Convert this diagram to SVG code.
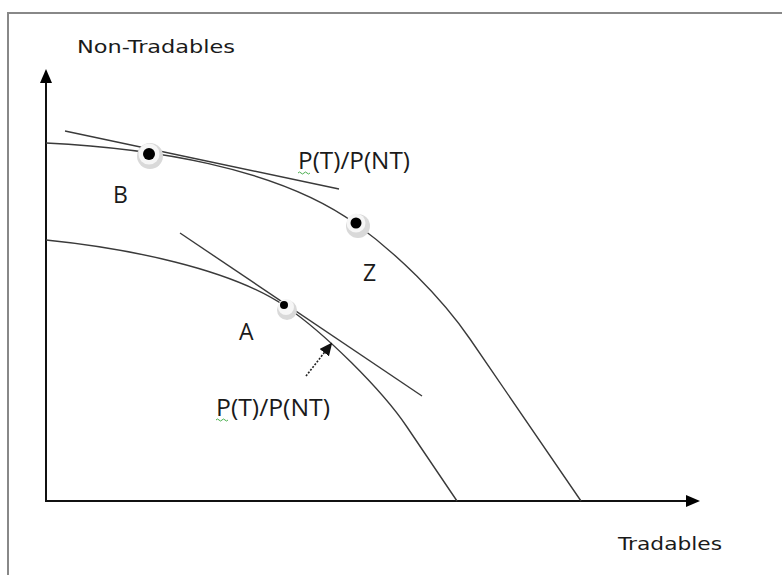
<svg xmlns="http://www.w3.org/2000/svg" width="782" height="575" viewBox="0 0 782 575">
  <defs>
    <marker id="arr" markerWidth="14" markerHeight="12" refX="8" refY="6" orient="auto" markerUnits="userSpaceOnUse">
      <path d="M0,0 L14,6 L0,12 Z" fill="#000"/>
    </marker>
    <marker id="arrSmall" markerWidth="13" markerHeight="12" refX="11" refY="6" orient="auto" markerUnits="userSpaceOnUse">
      <path d="M0,0 L13,6 L0,12 Z" fill="#111"/>
    </marker>
  </defs>
  <style>
    .frame { fill: none; stroke: #888; stroke-width: 2; }
    .axis { fill: none; stroke: #111; stroke-width: 2; }
    .curve { fill: none; stroke: #3a3a3a; stroke-width: 1.4; }
    .lbl { font-family: "Open Sans", "Liberation Sans", sans-serif; font-size: 23px; fill: #1a1a1a; }
    .ax { font-family: "DejaVu Sans", "Liberation Sans", sans-serif; font-size: 18px; fill: #1a1a1a; }
    .halo { fill: #d9d9d9; }
    .halo2 { fill: #f6f6f6; }
    .dot { fill: #000; }
    .squig { fill: none; stroke: #4caf50; stroke-width: 1; }
  </style>
  <rect width="782" height="575" fill="#fff"/>
  <path class="frame" d="M8,575 L8,13 L782,13"/>

  <g id="axes">
    <line class="axis" x1="46" y1="502" x2="46" y2="75" marker-end="url(#arr)"/>
    <line class="axis" x1="45" y1="501" x2="694" y2="501" marker-end="url(#arr)"/>
    <text class="ax" x="77" y="53" textLength="158" lengthAdjust="spacingAndGlyphs">Non-Tradables</text>
    <text class="ax" x="618" y="550" textLength="104" lengthAdjust="spacingAndGlyphs">Tradables</text>
  </g>

  <g id="connectors">
    <path id="ppf-outer" class="curve" d="M46,143 C146,148 276,166 356,224 C396,253 440,295.5 470,339 L581,501"/>
    <path id="ppf-inner" class="curve" d="M46,240 C126,248 230,268.6 285,306 C325,333.2 382,390 407,427 L457,501"/>
    <line id="tangent-top" class="curve" x1="65" y1="131" x2="339" y2="189"/>
    <line id="tangent-bottom" class="curve" x1="180" y1="233" x2="422" y2="396"/>
    <line id="dotted-arrow" x1="306" y1="376" x2="331" y2="344" stroke="#222" stroke-width="1.6" stroke-dasharray="2,1.5" marker-end="url(#arrSmall)"/>
  </g>

  <g id="point-B">
    <circle class="halo" cx="150" cy="156" r="13"/>
    <circle class="halo2" cx="149" cy="154" r="10.5"/>
    <circle class="dot" cx="149" cy="154" r="6"/>
    <text class="lbl" x="113" y="203">B</text>
  </g>
  <g id="point-Z">
    <circle class="halo" cx="358" cy="226" r="12"/>
    <circle class="halo2" cx="356" cy="223" r="9.5"/>
    <circle class="dot" cx="356" cy="223" r="5.5"/>
    <text class="lbl" x="363" y="281">Z</text>
  </g>
  <g id="point-A">
    <circle class="halo" cx="287" cy="310" r="10"/>
    <circle class="halo2" cx="286" cy="307" r="8"/>
    <circle class="dot" cx="284" cy="305" r="4"/>
    <text class="lbl" x="239" y="340">A</text>
  </g>
  <g id="label-price-top">
    <text class="lbl" x="298" y="169" textLength="112" lengthAdjust="spacingAndGlyphs">P(T)/P(NT)</text>
    <path class="squig" d="M298,173 q1.5,-2 3,0 t3,0 t3,0 t3,0"/>
  </g>
  <g id="label-price-bottom">
    <text class="lbl" x="216" y="416" textLength="114" lengthAdjust="spacingAndGlyphs">P(T)/P(NT)</text>
    <path class="squig" d="M216,420 q1.5,-2 3,0 t3,0 t3,0 t3,0"/>
  </g>
</svg>
